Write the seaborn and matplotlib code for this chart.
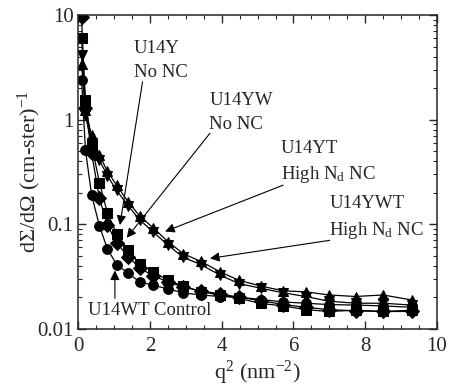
"""SANS intensity vs q^2 for U14 samples"""

import pandas as pd
import matplotlib
matplotlib.use('Agg')
import matplotlib.pyplot as plt
import seaborn as sns
from matplotlib.ticker import MultipleLocator, LogLocator, NullFormatter

# q^2 values (nm^-2)
q2 = [0.09, 0.20, 0.37, 0.59, 0.81, 1.07, 1.39, 1.71, 2.09, 2.50, 2.93,
      3.42, 3.95, 4.48, 5.10, 5.72, 6.34, 6.99, 7.73, 8.50, 9.30]

# dSigma/dOmega (cm-ster)^-1
u14wt = [2.4, 0.51, 0.19, 0.096, 0.058, 0.041, 0.034, 0.028, 0.026, 0.024, 0.022,
         0.021, 0.0203, 0.020, 0.019, 0.018, 0.0175, 0.017, 0.0168, 0.0165, 0.016]
u14yw = [9.5, 1.3, 0.48, 0.176, 0.098, 0.066, 0.049, 0.038, 0.032, 0.028, 0.025,
         0.023, 0.0215, 0.020, 0.0185, 0.017, 0.016, 0.0152, 0.0148, 0.0146, 0.0146]
u14y = [6.0, 1.54, 0.57, 0.25, 0.128, 0.081, 0.056, 0.042, 0.035, 0.029, 0.0255,
        0.0225, 0.021, 0.0195, 0.0174, 0.0165, 0.0152, 0.0146, 0.015, 0.0146, 0.015]
u14yt = [3.4, 1.23, 0.71, 0.46, 0.32, 0.235, 0.163, 0.12, 0.092, 0.068, 0.052,
         0.044, 0.035, 0.029, 0.0255, 0.023, 0.0225, 0.021, 0.0203, 0.021, 0.0188]
u14ywt = [4.2, 1.1, 0.6, 0.41, 0.29, 0.21, 0.15, 0.11, 0.084, 0.063, 0.048,
          0.041, 0.0325, 0.027, 0.0243, 0.022, 0.0203, 0.0183, 0.0175, 0.0175, 0.0168]

samples = ['U14WT', 'U14YW', 'U14Y', 'U14YT', 'U14YWT']
series = [u14wt, u14yw, u14y, u14yt, u14ywt]
marker_map = {'U14WT': 'o', 'U14YW': 'D', 'U14Y': 's', 'U14YT': '^', 'U14YWT': 'v'}

rows = []
for name, vals in zip(samples, series):
    for x, y in zip(q2, vals):
        rows.append({'q2': x, 'I': y, 'sample': name})
df = pd.DataFrame(rows)

sns.set_style('ticks')
plt.rcParams['font.family'] = ['Liberation Serif', 'DejaVu Serif']
plt.rcParams['mathtext.default'] = 'regular'

fig = plt.figure(figsize=(4.58, 3.88), dpi=100)
ax = fig.add_axes([0.171, 0.153, 0.783, 0.808])

sns.lineplot(data=df, x='q2', y='I', hue='sample', style='sample',
             palette=['black'] * 5, markers=marker_map, dashes=False,
             markersize=7, linewidth=0.9, markeredgecolor='black',
             legend=False, ax=ax)

ax.set_yscale('log')
ax.set_xlim(0, 10)
ax.set_ylim(0.01, 10)
ax.xaxis.set_major_locator(MultipleLocator(2))
ax.xaxis.set_minor_locator(MultipleLocator(0.5))
ax.yaxis.set_major_locator(LogLocator(base=10))
ax.yaxis.set_minor_locator(LogLocator(base=10, subs=range(2, 10)))
ax.yaxis.set_minor_formatter(NullFormatter())
ax.set_yticks([0.01, 0.1, 1, 10])
ax.set_yticklabels(['0.01', '0.1', '1', '10'])
ax.tick_params(which='both', direction='in', top=True, right=True, labelsize=15)
ax.tick_params(which='major', length=6, width=1)
ax.tick_params(which='minor', length=3, width=0.8)
ax.tick_params(axis='x', pad=6)
for s in ax.spines.values():
    s.set_linewidth(1.1)

ax.set_xlabel('q$^2$ (nm$^{-2}$)', fontsize=16, labelpad=2)
ax.set_ylabel('d\u03a3/d\u03a9 (cm-ster)$^{-1}$', fontsize=16, labelpad=-4)

arrow = dict(arrowstyle='-|>', color='black', lw=0.8,
             mutation_scale=14, shrinkA=0, shrinkB=0)
txt = dict(fontsize=13.5, ha='left', va='bottom', linespacing=1.5)

ax.text(1.55, 2.35, 'U14Y\nNo NC', **txt)
ax.annotate('', xy=(1.16, 0.098), xytext=(1.79, 2.3), arrowprops=arrow)

ax.text(3.65, 0.75, 'U14YW\nNo NC', **txt)
ax.annotate('', xy=(1.35, 0.074), xytext=(3.67, 0.74), arrowprops=arrow)

ax.text(5.65, 0.235, 'U14YT\nHigh N$_d$ NC', **txt)
ax.annotate('', xy=(2.42, 0.085), xytext=(5.71, 0.236), arrowprops=arrow)

ax.text(7.0, 0.0695, 'U14YWT\nHigh N$_d$ NC', **txt)
ax.annotate('', xy=(3.67, 0.047), xytext=(7.01, 0.070), arrowprops=arrow)

ax.text(0.28, 0.0148, 'U14WT Control', fontsize=13.5, ha='left', va='center')
ax.annotate('', xy=(1.02, 0.036), xytext=(1.02, 0.0195), arrowprops=arrow)

fig.savefig('out.png', dpi=100)
